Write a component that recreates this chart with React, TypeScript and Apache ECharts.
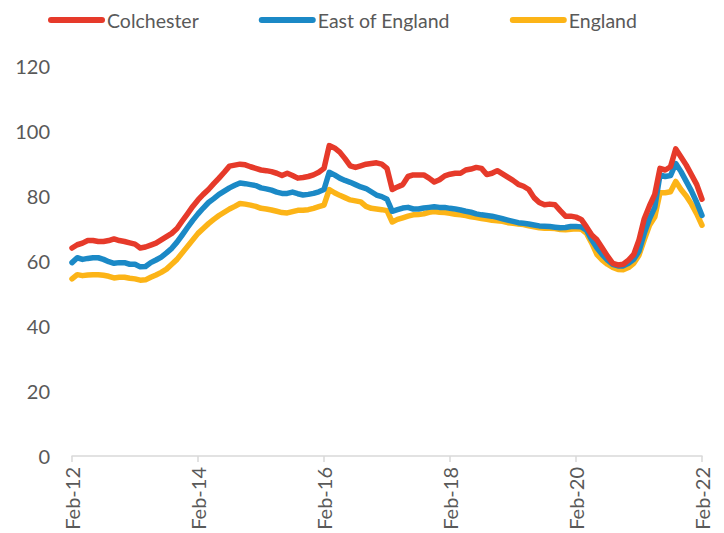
import React, { useEffect, useRef } from "react";
import * as echarts from "echarts";

const monthNames = ["Jan", "Feb", "Mar", "Apr", "May", "Jun", "Jul", "Aug", "Sep", "Oct", "Nov", "Dec"];
const categories: string[] = [];
for (let i = 0; i < 121; i++) {
  const m = (1 + i) % 12;
  const y = 12 + Math.floor((1 + i) / 12);
  categories.push(`${monthNames[m]}-${y}`);
}

const colchester = [
  64, 65, 65.5, 66.3, 66.3, 66, 66, 66.3, 66.8, 66.3, 66, 65.6, 65.2, 64, 64.3, 64.9, 65.5, 66.5, 67.5, 68.5, 70,
  72.3, 74.5, 76.8, 78.8, 80.5, 82, 83.8, 85.5, 87.3, 89.2, 89.5, 89.8, 89.6, 89, 88.5, 88, 87.8, 87.5, 87, 86.3,
  87, 86.3, 85.5, 85.7, 86, 86.5, 87.3, 88.5, 95.5, 94.8, 93.5, 91.5, 89.3, 88.8, 89.3, 89.8, 90, 90.2, 89.8, 88.5,
  82, 82.8, 83.5, 86, 86.5, 86.5, 86.5, 85.5, 84.3, 85, 86.2, 86.7, 87, 87, 88, 88.3, 88.8, 88.5, 86.6, 87,
  87.8, 86.8, 85.8, 84.8, 83.6, 83, 82, 79.5, 78, 77.3, 77.5, 77.3, 75.5, 73.8, 73.8, 73.5, 72.8, 70.5, 68, 66.5,
  64, 61.5, 59.3, 58.8, 59, 60.3, 62, 66.5, 73, 77, 80.5, 88.5, 88, 89, 94.5, 92, 89.5, 86.5, 83.5, 79,
];

const eastOfEngland = [
  59.5, 61, 60.5, 60.8, 61, 61, 60.5, 59.8, 59.3, 59.5, 59.5, 59, 59, 58.2, 58.3, 59.5, 60.3, 61.2, 62.5, 63.9, 65.8,
  68, 70.3, 72.5, 74.5, 76.3, 78, 79.2, 80.5, 81.5, 82.5, 83.3, 84, 83.8, 83.5, 83.2, 82.5, 82.2, 81.8, 81.2, 80.8,
  80.8, 81.2, 80.7, 80.3, 80.5, 80.8, 81.3, 82, 87.3, 86.5, 85.5, 84.8, 84.2, 83.5, 82.8, 82.3, 81.3, 80.3, 79.8, 79,
  75.3, 75.8, 76.3, 76.5, 76, 76, 76.3, 76.5, 76.7, 76.5, 76.5, 76.2, 76, 75.7, 75.3, 75, 74.5, 74.2, 74, 73.8,
  73.4, 73, 72.6, 72.2, 71.8, 71.6, 71.4, 71.1, 70.8, 70.7, 70.6, 70.4, 70.2, 70.3, 70.6, 70.6, 70.5, 69.5, 66.5, 64,
  62, 60.3, 59, 58.5, 58.5, 59.3, 60.5, 63, 68.5, 73, 76.5, 86.5, 86, 86.3, 90, 87.5, 84.5, 81.5, 78, 74,
];

const england = [
  54.5, 55.8, 55.5, 55.7, 55.8, 55.8, 55.6, 55.3, 54.8, 55, 55, 54.7, 54.5, 54.1, 54.2, 55, 55.7, 56.5, 57.5, 59, 60.5,
  62.5, 64.5, 66.5, 68.5, 70, 71.5, 72.8, 74, 75, 76, 76.8, 77.7, 77.5, 77.2, 76.8, 76.2, 76, 75.7, 75.3, 74.9,
  74.8, 75.2, 75.6, 75.6, 75.8, 76.2, 76.7, 77.2, 82, 81, 80.2, 79.5, 78.8, 78.5, 78.2, 76.8, 76.2, 76, 75.8, 75.5,
  72, 72.8, 73.3, 73.8, 74.2, 74.3, 74.5, 75, 75.2, 75, 74.9, 74.7, 74.4, 74.2, 74, 73.6, 73.4, 73.1, 72.8, 72.5,
  72.4, 72.2, 71.8, 71.6, 71.4, 71.2, 70.8, 70.5, 70.2, 70.1, 70.1, 70, 69.7, 69.6, 69.8, 69.9, 69.8, 68.5, 65.5, 62,
  60.3, 59, 58, 57.4, 57.3, 58, 59.3, 61.8, 66.5, 71, 73.5, 81, 81, 81.3, 84.5, 82, 80, 77.5, 74.5, 71,
];

const seriesNames = ["Colchester", "East of England", "England"];
const seriesColors = ["#E63A2A", "#1B89C6", "#FCB417"];

const FONT = "Lato, 'Open Sans', sans-serif";
const TEXT_COLOR = "#595959";

export default function App() {
  const ref = useRef<HTMLDivElement>(null);

  useEffect(() => {
    document.body.style.margin = "0";
    document.body.style.overflow = "hidden";
    if (!ref.current) return;
    const chart = echarts.init(ref.current, undefined, { renderer: "svg" });
    const dataSets = [colchester, eastOfEngland, england];
    chart.setOption({
      animation: false,
      textStyle: { fontFamily: FONT },
      legend: {
        left: 43,
        top: 5,
        itemWidth: 57,
        itemHeight: 6,
        itemGap: 60,
        icon: "path://M3,0 L54,0 A3,3 0 0 1 54,6 L3,6 A3,3 0 0 1 3,0 Z",
        textStyle: {
          fontFamily: FONT,
          fontSize: 19.5,
          lineHeight: 20,
          color: TEXT_COLOR,
          padding: [0, 0, 0, -3],
        },
        data: seriesNames,
      },
      grid: {
        left: 72,
        right: 22,
        top: 66,
        bottom: 77,
        containLabel: false,
        outerBoundsMode: "none",
      },
      xAxis: {
        type: "category",
        data: categories,
        boundaryGap: false,
        axisLine: { lineStyle: { color: "#D9D9D9", width: 1.5 } },
        axisTick: { show: true, interval: 23, length: 6, lineStyle: { color: "#D9D9D9", width: 1.5 } },
        axisLabel: {
          interval: 23,
          rotate: 90,
          margin: 11,
          fontFamily: FONT,
          fontSize: 20,
          color: TEXT_COLOR,
        },
      },
      yAxis: {
        type: "value",
        min: 0,
        max: 120,
        interval: 20,
        axisLine: { show: false },
        axisTick: { show: false },
        splitLine: { show: false },
        axisLabel: { fontFamily: FONT, fontSize: 20, color: TEXT_COLOR, margin: 22 },
      },
      series: seriesNames.map((name, idx) => ({
        name,
        type: "line",
        data: dataSets[idx],
        symbol: "none",
        lineStyle: { color: seriesColors[idx], width: 5.5, cap: "round", join: "round" },
        itemStyle: { color: seriesColors[idx] },
        z: 3 - idx,
      })),
    });
    return () => chart.dispose();
  }, []);

  return <div ref={ref} style={{ width: 724, height: 533 }} />;
}
